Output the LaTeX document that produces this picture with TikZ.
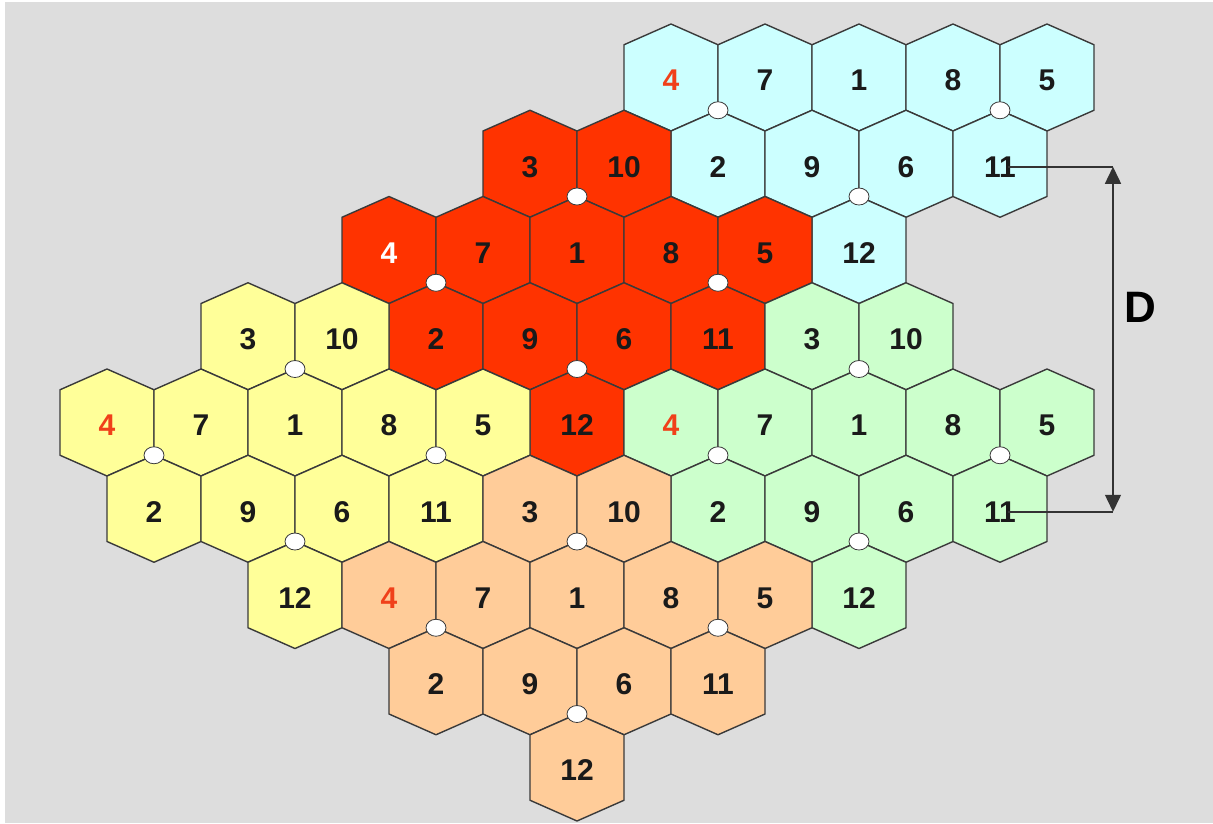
\documentclass[tikz,border=0pt]{standalone}
\usepackage{fontspec}
\setmainfont{Liberation Sans}
\usetikzlibrary{shapes.geometric,arrows.meta}
\definecolor{bg}{HTML}{DDDDDD}
\definecolor{cred}{HTML}{FF3300}
\definecolor{cblue}{HTML}{CCFFFF}
\definecolor{cyel}{HTML}{FFFF99}
\definecolor{cgreen}{HTML}{CCFFCC}
\definecolor{cpeach}{HTML}{FFCC99}
\definecolor{edgecol}{HTML}{3A3A3A}
\definecolor{txt}{HTML}{1A1A1A}
\definecolor{lab}{HTML}{F0401A}
\definecolor{dimcol}{HTML}{333333}

\tikzset{
  hexedge/.style={draw=edgecol, line width=1.4pt, line join=round},
  celltext/.style={font=\bfseries\fontsize{30}{34}\selectfont, inner sep=0pt, yshift=-3pt},
  via/.style={ellipse, fill=white, draw=edgecol, line width=0.8pt, minimum width=20pt, minimum height=17pt, inner sep=0pt},
  dimline/.style={draw=dimcol, line width=1.5pt},
  dimtip/.style={-{Triangle[length=17pt,width=16pt]}},
}

% name, k, r, fill, label, textcolor
\newcommand\hexcell[6]{%
  \pgfmathsetmacro\hx{577+47*(#2)}%
  \pgfmathsetmacro\hy{250+86.25*((#3)-2)}%
  \filldraw[hexedge, fill=#4, shift={(\hx,\hy)}] (-47,-32.75) -- (0,-53.5) -- (47,-32.75) -- (47,32.75) -- (0,53.5) -- (-47,32.75) -- cycle;
  \node[celltext, text=#6] (#1) at (\hx,\hy) {#5};
}
% prefix, k0, r0, fill, colour of 4 (cells without 3 and 10)
\newcommand\clusterbody[5]{%
  \hexcell{#1c4}{#2-4}{#3}{#4}{4}{#5}
  \hexcell{#1c7}{#2-2}{#3}{#4}{7}{txt}
  \hexcell{#1c1}{#2}{#3}{#4}{1}{txt}
  \hexcell{#1c8}{#2+2}{#3}{#4}{8}{txt}
  \hexcell{#1c5}{#2+4}{#3}{#4}{5}{txt}
  \hexcell{#1c2}{#2-3}{#3+1}{#4}{2}{txt}
  \hexcell{#1c9}{#2-1}{#3+1}{#4}{9}{txt}
  \hexcell{#1c6}{#2+1}{#3+1}{#4}{6}{txt}
  \hexcell{#1c11}{#2+3}{#3+1}{#4}{11}{txt}
  \hexcell{#1c12}{#2}{#3+2}{#4}{12}{txt}
}
\newcommand\clustertop[4]{%
  \hexcell{#1c3}{#2-1}{#3-1}{#4}{3}{txt}
  \hexcell{#1c10}{#2+1}{#3-1}{#4}{10}{txt}
}
% white circles: prefix, k0, r0
\newcommand\viasides[3]{%
  \pgfmathsetmacro\vx{577+47*(#2)}%
  \pgfmathsetmacro\vy{250+86.25*((#3)-2)}%
  \node[via] (#1vl) at (\vx-141,\vy+32.75) {};
  \node[via] (#1vr) at (\vx+141,\vy+32.75) {};
  \node[via] (#1vb) at (\vx,\vy+119) {};
}
\newcommand\viatopone[3]{%
  \pgfmathsetmacro\vx{577+47*(#2)}%
  \pgfmathsetmacro\vy{250+86.25*((#3)-2)}%
  \node[via] (#1vt) at (\vx,\vy-53.5) {};
}

\begin{document}
\begin{tikzpicture}[x=1pt,y=-1pt]
\useasboundingbox (0,0) rectangle (1213,823);
\fill[white] (0,0) rectangle (1213,823);
\fill[bg] (5,2) rectangle (1213,823);

% blue cluster (top right)
\clusterbody{b}{6}{0}{cblue}{lab}
% red cluster
\clustertop{r}{0}{2}{cred}
\clusterbody{r}{0}{2}{cred}{white}
% yellow cluster
\clustertop{y}{-6}{4}{cyel}
\clusterbody{y}{-6}{4}{cyel}{lab}
% green cluster
\clustertop{g}{6}{4}{cgreen}
\clusterbody{g}{6}{4}{cgreen}{lab}
% peach cluster
\clustertop{p}{0}{6}{cpeach}
\clusterbody{p}{0}{6}{cpeach}{lab}

% white circles
\viasides{b}{6}{0}
\viatopone{r}{0}{2}\viasides{r}{0}{2}
\viatopone{y}{-6}{4}\viasides{y}{-6}{4}
\viatopone{g}{6}{4}\viasides{g}{6}{4}
\viatopone{p}{0}{6}\viasides{p}{0}{6}

% distance D
\coordinate (dx) at (1113,0);
\coordinate (dtop) at (bc11.center -| dx);
\coordinate (dbot) at (gc11.center -| dx);
\draw[dimline] ([xshift=8pt]bc11.center) -- (dtop);
\draw[dimline] ([xshift=8pt]gc11.center) -- (dbot);
\draw[dimline, {Triangle[length=17pt,width=16pt]}-{Triangle[length=17pt,width=16pt]}] (dtop) -- (dbot);
\node[font=\bfseries\fontsize{44}{50}\selectfont, text=black, inner sep=0pt] (dlab) at (1140,307) {D};
\end{tikzpicture}
\end{document}
